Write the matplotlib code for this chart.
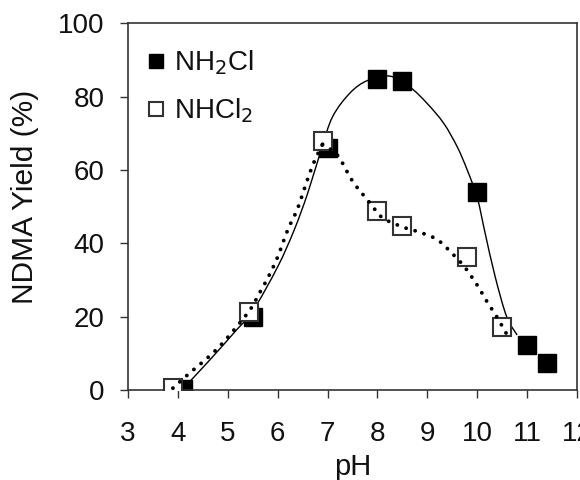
import matplotlib
matplotlib.use('Agg')
import matplotlib.pyplot as plt
from matplotlib.path import Path
from matplotlib.patches import PathPatch

plt.rcParams['font.family'] = ['Liberation Sans', 'DejaVu Sans']

# measured points
nh2cl_ph = [4.1, 5.5, 7.0, 8.0, 8.5, 10.0, 11.0, 11.4]
nh2cl_yield = [0.2, 20.0, 66.0, 84.8, 84.4, 54.0, 12.4, 7.4]
nhcl2_ph = [3.9, 5.42, 6.9, 8.0, 8.5, 9.8, 10.5]
nhcl2_yield = [0.5, 21.3, 68.0, 48.9, 44.8, 36.2, 17.1]

# trend lines (knots of a smooth curve)
nh2cl_fit_ph = [4.1, 4.64, 5.17, 5.5, 6.0, 6.33, 6.6, 6.87, 7.1, 7.45, 7.8,
                8.25, 8.66, 9.0, 9.33, 9.6, 9.8, 10.0, 10.16, 10.36, 10.59,
                10.8]
nh2cl_fit_yield = [0.3, 8.2, 16.3, 21.5, 33.6, 43.6, 53.6, 65.4, 74.5, 81.0,
                   84.4, 85.6, 82.5, 78.1, 72.7, 66.3, 60.0, 52.5, 42.7, 30.9,
                   20.0, 15.0]
nhcl2_rise_ph = [3.9, 4.2, 4.8, 5.4, 5.63, 5.83, 6.0, 6.2, 6.4, 6.57, 6.73, 6.9]
nhcl2_rise_yield = [0.5, 4.2, 11.4, 21.0, 26.3, 31.3, 36.3, 43.6, 49.5, 56.3,
                    62.2, 67.0]
nhcl2_fall_ph = [6.9, 7.2, 7.5, 7.85, 8.1, 8.5, 8.85, 9.2, 9.5, 9.75, 10.0,
                 10.2, 10.4, 10.62]
nhcl2_fall_yield = [67.0, 64.0, 57.0, 51.0, 47.0, 44.5, 43.0, 41.0, 37.2, 33.5,
                    28.6, 24.0, 19.8, 14.5]


def smooth_path(xs, ys):
    # catmull-rom knots -> cubic bezier path
    pts = list(zip(xs, ys))
    pts = [pts[0]] + pts + [pts[-1]]
    verts = [pts[1]]
    codes = [Path.MOVETO]
    for i in range(1, len(pts) - 2):
        p0, p1, p2, p3 = pts[i - 1], pts[i], pts[i + 1], pts[i + 2]
        c1 = (p1[0] + (p2[0] - p0[0]) / 6.0, p1[1] + (p2[1] - p0[1]) / 6.0)
        c2 = (p2[0] - (p3[0] - p1[0]) / 6.0, p2[1] - (p3[1] - p1[1]) / 6.0)
        verts += [c1, c2, p2]
        codes += [Path.CURVE4] * 3
    return Path(verts, codes)


fig = plt.figure(figsize=(5.8, 4.8), dpi=100)
ax = fig.add_axes([0.2207, 0.1875, 0.7741, 0.7639])

txt = '#111111'
ax.plot(nh2cl_ph, nh2cl_yield, 's', color='black', markersize=12.5,
        mec='black', label='NH$_2$Cl', zorder=2)
ax.add_patch(PathPatch(smooth_path(nh2cl_fit_ph, nh2cl_fit_yield), fill=False,
                       edgecolor='black', lw=1.0, zorder=3))
ax.plot(nhcl2_ph, nhcl2_yield, 's', mfc='white', mec='#333333', mew=1.5,
        markersize=12.5, label='NHCl$_2$', zorder=4)
for xs, ys in [(nhcl2_rise_ph, nhcl2_rise_yield), (nhcl2_fall_ph, nhcl2_fall_yield)]:
    ax.add_patch(PathPatch(smooth_path(xs, ys), fill=False, edgecolor='black',
                           lw=2.8, linestyle=(0, (0.01, 2.4)),
                           capstyle='round', zorder=5))

ax.set_xlim(3, 12)
ax.set_ylim(0, 100)
ax.set_xticks(range(3, 13))
ax.set_yticks(range(0, 101, 20))
ax.tick_params(direction='out', length=6, width=1.0, color='#333333',
               labelsize=20, labelcolor=txt)
ax.tick_params(axis='x', pad=16)
ax.tick_params(axis='y', pad=11)
for s in ax.spines.values():
    s.set_color('#333333')
    s.set_linewidth(1.2)

ax.set_xlabel('pH', fontsize=21, color=txt, labelpad=4.5)
ax.set_ylabel('NDMA Yield (%)', fontsize=21.5, color=txt)
ax.yaxis.set_label_coords(-0.198, 0.527)

leg = ax.legend(loc='upper left', bbox_to_anchor=(0.0, 0.985), frameon=False,
                fontsize=20, markerscale=0.75, handlelength=0.6,
                handletextpad=0.35, labelspacing=0.7, borderaxespad=0.3)
for t in leg.get_texts():
    t.set_color(txt)

fig.savefig('out.png', dpi=100)
